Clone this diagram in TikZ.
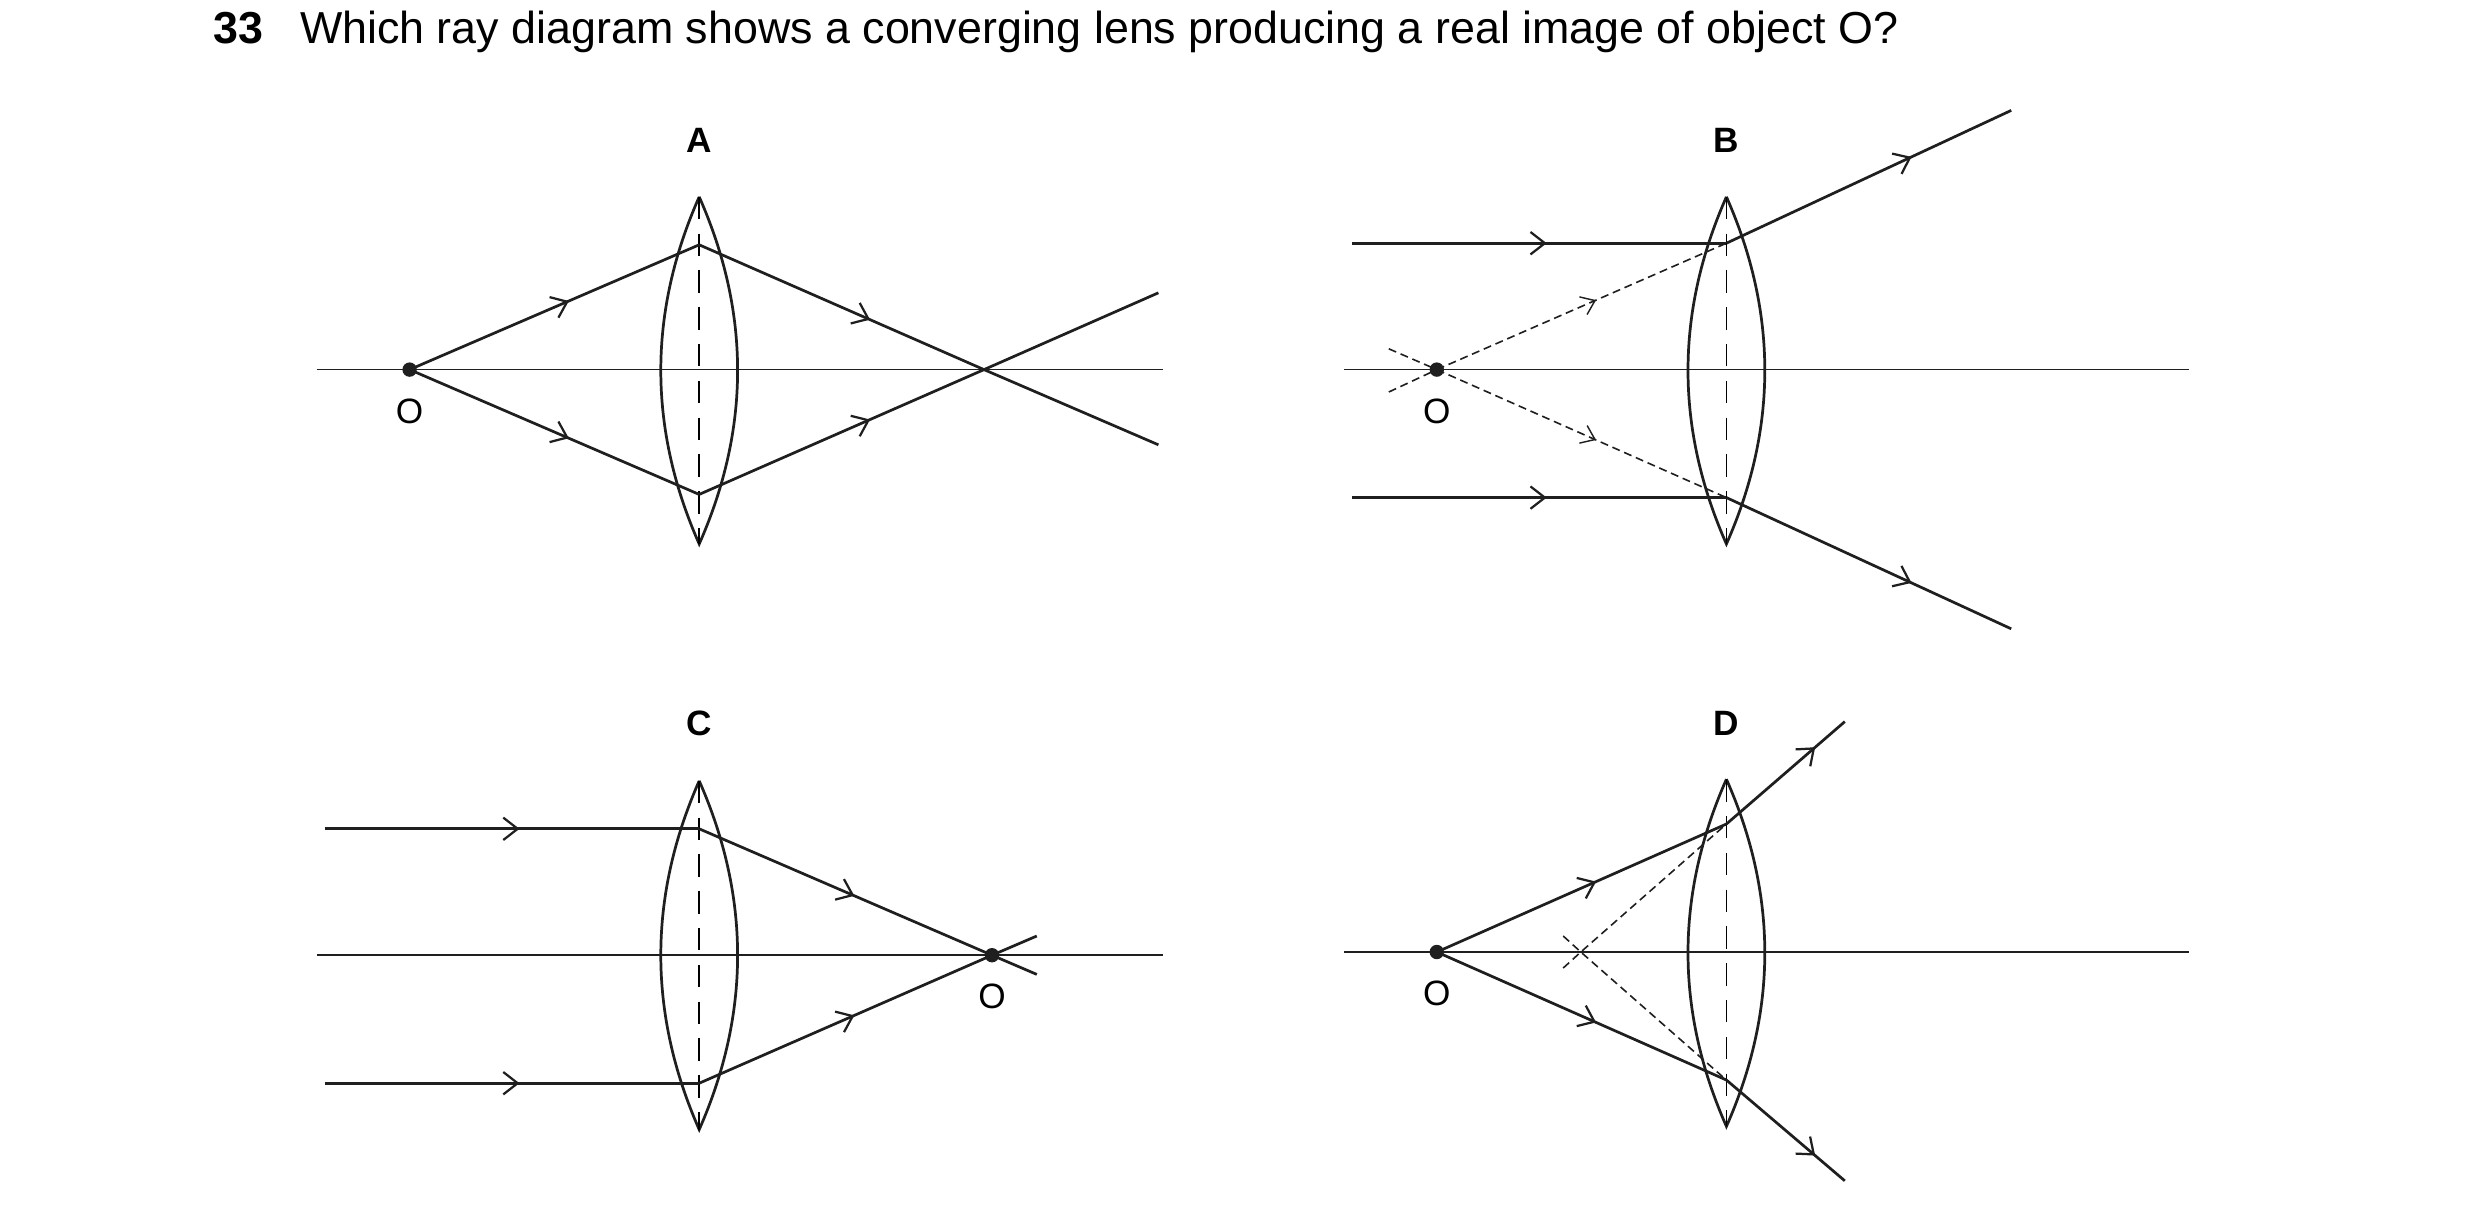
\documentclass[tikz,border=0pt]{standalone}
\usepackage{fontspec}
\setmainfont{Liberation Sans}
\usetikzlibrary{arrows.meta,decorations.markings}
\begin{document}
\begin{tikzpicture}[x=1pt,y=-1pt,
  ray/.style={line width=1.7pt,color=black!88},
  dray/.style={line width=1pt,dash pattern=on 5pt off 3pt,color=black!88},
  axis/.style={line width=0.9pt,color=black!88},
  lensl/.style={line width=1.7pt,color=black!88},
  mid/.style={postaction={decorate},decoration={markings,mark=at position #1 with {\arrow{Straight Barb[length=9pt,width=14pt,line width=1.4pt]}}}},
  dmid/.style={postaction={decorate},decoration={markings,mark=at position #1 with {\arrow{Straight Barb[length=8pt,width=12pt,line width=0.9pt]}}}},
  lbl/.style={font=\fontsize{22}{24}\selectfont\bfseries},
  olbl/.style={font=\fontsize{22}{24}\selectfont},
  dot/.style={circle,fill=black!88,inner sep=0pt,minimum size=9pt}]
\useasboundingbox (0,0) rectangle (1550,756);
\newcommand{\mylens}[3]{% x, top, bottom
  \draw[lensl] (#1,#2) .. controls ({#1+32},{#2+(#3-#2)/3}) and ({#1+32},{#2+2*(#3-#2)/3}) .. (#1,#3)
     .. controls ({#1-32},{#2+2*(#3-#2)/3}) and ({#1-32},{#2+(#3-#2)/3}) .. (#1,#2);
  \draw[line width=1pt,dash pattern=on 14pt off 9pt] (#1,#2) -- (#1,#3);}
\node[anchor=base west,font=\fontsize{28}{30}\selectfont\bfseries] (num) at (130,27) {33};
\node[anchor=base west,font=\fontsize{28}{30}\selectfont] (q) at (184,27) {Which ray diagram shows a converging lens producing a real image of object O?};
% A
\node[lbl] (la) at (437,88) {A};
\coordinate (a1) at (198,231); \coordinate (a2) at (727,231);
\draw[axis] (a1) -- (a2);
\mylens{437}{123}{340}
\node[dot] (oa) at (256,231) {};
\node[olbl] (oal) at (256,257) {O};
\coordinate (at) at (437,153); \coordinate (ab) at (437,309);
\coordinate (ax) at (615,231); \coordinate (ae1) at (724,278); \coordinate (ae2) at (724,183);
\draw[ray,mid=0.55] (oa.center) -- (at);
\draw[ray,mid=0.55] (oa.center) -- (ab);
\draw[ray,mid=0.6] (at) -- (ax); \draw[ray] (ax) -- (ae1);
\draw[ray,mid=0.6] (ab) -- (ax); \draw[ray] (ax) -- (ae2);
% B
\node[lbl] (lb) at (1079,88) {B};
\coordinate (b1) at (840,231); \coordinate (b2) at (1368,231);
\draw[axis] (b1) -- (b2);
\mylens{1079}{123}{340}
\node[dot] (ob) at (898,231) {};
\node[olbl] (obl) at (898,257) {O};
\coordinate (bs1) at (845,152); \coordinate (bt) at (1079,152); \coordinate (be1) at (1257,69);
\coordinate (bs2) at (845,311); \coordinate (bb) at (1079,311); \coordinate (be2) at (1257,393);
\draw[ray,mid=0.52] (bs1) -- (bt); \draw[ray,mid=0.65] (bt) -- (be1);
\draw[ray,mid=0.52] (bs2) -- (bb); \draw[ray,mid=0.65] (bb) -- (be2);
\coordinate (bd1) at (868,245); \coordinate (bd2) at (868,218);
\draw[dray] (bd1) -- (ob.center); \draw[dray,dmid=0.55] (ob.center) -- (bt);
\draw[dray] (bd2) -- (ob.center); \draw[dray,dmid=0.55] (ob.center) -- (bb);
% C
\node[lbl] (lc) at (437,452) {C};
\coordinate (c1) at (198,597); \coordinate (c2) at (727,597);
\draw[axis] (c1) -- (c2);
\mylens{437}{488}{706}
\coordinate (cs1) at (203,518); \coordinate (ct) at (437,518);
\coordinate (cs2) at (203,677); \coordinate (cb) at (437,677);
\node[dot] (oc) at (620,597) {};
\node[olbl] (ocl) at (620,623) {O};
\coordinate (ce1) at (648,609); \coordinate (ce2) at (648,585);
\draw[ray,mid=0.52] (cs1) -- (ct); \draw[ray,mid=0.52] (cs2) -- (cb);
\draw[ray,mid=0.53] (ct) -- (oc.center); \draw[ray] (oc.center) -- (ce1);
\draw[ray,mid=0.53] (cb) -- (oc.center); \draw[ray] (oc.center) -- (ce2);
% D
\node[lbl] (ld) at (1079,452) {D};
\coordinate (d1) at (840,595); \coordinate (d2) at (1368,595);
\draw[axis] (d1) -- (d2);
\mylens{1079}{487}{704}
\node[dot] (od) at (898,595) {};
\node[olbl] (odl) at (898,621) {O};
\coordinate (dt) at (1079,515); \coordinate (db) at (1079,675);
\coordinate (de1) at (1153,451); \coordinate (de2) at (1153,738);
\draw[ray,mid=0.55] (od.center) -- (dt); \draw[ray,mid=0.75] (dt) -- (de1);
\draw[ray,mid=0.55] (od.center) -- (db); \draw[ray,mid=0.75] (db) -- (de2);
\coordinate (dv) at (988,595); \coordinate (dv1) at (977,585); \coordinate (dv2) at (977,605);
\draw[dray] (dv1) -- (dv) -- (dt);
\draw[dray] (dv2) -- (dv) -- (db);
\end{tikzpicture}
\end{document}
